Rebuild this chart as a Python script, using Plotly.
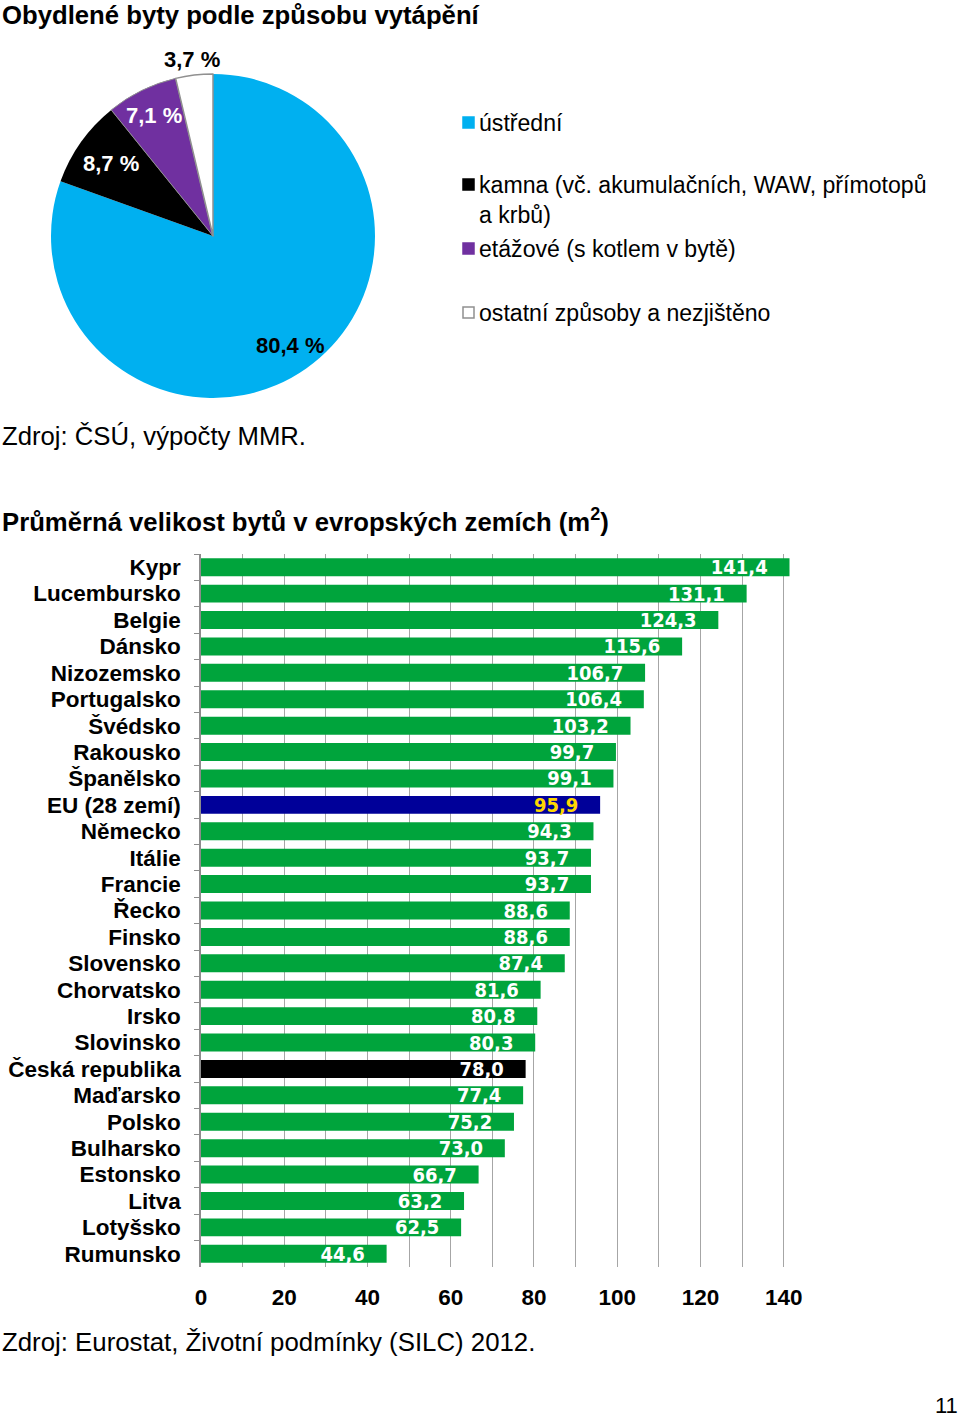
import math
import plotly.graph_objects as go

W, H = 960, 1418

# ---- Pie data ----
pie_labels = ["ústřední", "kamna (vč. akumulačních, WAW, přímotopů<br>a krbů)",
              "etážové (s kotlem v bytě)", "ostatní způsoby a nezjištěno"]
pie_values = [80.4, 8.7, 7.1, 3.7]
pie_colors = ["#00B0F0", "#000000", "#7030A0", "#FFFFFF"]
pie_text_colors = ["#000000", "#FFFFFF", "#FFFFFF", "#000000"]
pie_label_radius = [0.83, 0.77, 0.83, 1.1]

# ---- Bar data ----
countries = ["Kypr", "Lucembursko", "Belgie", "Dánsko", "Nizozemsko", "Portugalsko",
             "Švédsko", "Rakousko", "Španělsko", "EU (28 zemí)", "Německo", "Itálie",
             "Francie", "Řecko", "Finsko", "Slovensko", "Chorvatsko", "Irsko",
             "Slovinsko", "Česká republika", "Maďarsko", "Polsko", "Bulharsko",
             "Estonsko", "Litva", "Lotyšsko", "Rumunsko"]
sizes = [141.4, 131.1, 124.3, 115.6, 106.7, 106.4, 103.2, 99.7, 99.1, 95.9, 94.3,
         93.7, 93.7, 88.6, 88.6, 87.4, 81.6, 80.8, 80.3, 78.0, 77.4, 75.2, 73.0,
         66.7, 63.2, 62.5, 44.6]
x_ticks = [0, 20, 40, 60, 80, 100, 120, 140]

GREEN = "#00A43C"
bar_colors = []
label_colors = []
for c in countries:
    if c.startswith("EU"):
        bar_colors.append("#000099"); label_colors.append("#FFD700")
    elif c == "Česká republika":
        bar_colors.append("#000000"); label_colors.append("#FFFFFF")
    else:
        bar_colors.append(GREEN); label_colors.append("#FFFFFF")

def fmt(v):
    return f"{v:.1f}".replace(".", ",")

def px_x(p):
    return p / W

def px_y(p):
    return 1 - p / H

PIE_L, PIE_R, PIE_T, PIE_B = 51, 375, 74, 398
CX, CY, RAD = (PIE_L + PIE_R) / 2, (PIE_T + PIE_B) / 2, (PIE_R - PIE_L) / 2

fig = go.Figure()

fig.add_trace(go.Pie(
    labels=pie_labels, values=pie_values, sort=False, direction="clockwise",
    rotation=0,
    marker=dict(colors=pie_colors,
                line=dict(color=["#00B0F0", "#000000", "#909090", "#909090"], width=[0, 0, 1, 1.5])),
    textinfo="none", automargin=False,
    domain=dict(x=[px_x(PIE_L), px_x(PIE_R)], y=[px_y(PIE_B), px_y(PIE_T)]),
    showlegend=False, hoverinfo="label+percent",
))

# percentage labels at each slice's mid-angle
total = sum(pie_values)
cum = 0.0
for v, tc, k in zip(pie_values, pie_text_colors, pie_label_radius):
    mid = (cum + v / 2) / total * 2 * math.pi
    cum += v
    lx = CX + k * RAD * math.sin(mid)
    ly = CY - k * RAD * math.cos(mid)
    fig.add_annotation(text="<b>" + fmt(v) + " %</b>", xref="paper", yref="paper",
                       x=px_x(lx), y=px_y(ly), xanchor="center", yanchor="middle",
                       showarrow=False,
                       font=dict(size=22, family="Liberation Sans, Arial", color=tc))

fig.add_trace(go.Bar(
    y=countries, x=sizes, orientation="h",
    marker=dict(color=bar_colors, line=dict(width=0)),
    text=[fmt(v) + "\u00a0\u00a0\u00a0" for v in sizes],
    textposition="inside", insidetextanchor="end",
    textfont=dict(color=label_colors, size=20,
                  family="Liberation Sans Narrow, Arial Narrow, DejaVu Sans Condensed",
                  weight="bold"),
    constraintext="none", cliponaxis=False,
    xaxis="x", yaxis="y", showlegend=False,
))

# legend for the pie
legend_y = [122, 184, 248, 312]
for lab, col, yy in zip(pie_labels, pie_colors, legend_y):
    fig.add_shape(type="rect", xref="paper", yref="paper",
                  x0=px_x(463), x1=px_x(474), y0=px_y(yy + 6), y1=px_y(yy - 5),
                  fillcolor=col, line=dict(color="#909090" if col == "#FFFFFF" else col, width=1.5))
    fig.add_annotation(text=lab, xref="paper", yref="paper", x=px_x(477), y=px_y(yy - 14),
                       xanchor="left", yanchor="top", showarrow=False, align="left",
                       font=dict(size=23.1, family="Liberation Sans, Arial", color="#000"))

texts = [
    ("<b>Obydlené byty podle způsobu vytápění</b>", 0, 15, 25.7),
    ("Zdroj: ČSÚ, výpočty MMR.", 0, 436, 25.7),
    ("<b>Průměrná velikost bytů v evropských zemích (m<sup>2</sup>)</b>", 0, 520, 25.7),
    ("Zdroj: Eurostat, Životní podmínky (SILC) 2012.", 0, 1342, 25.8),
]
for t, xx, yy, s in texts:
    fig.add_annotation(text=t, xref="paper", yref="paper", x=px_x(xx), y=px_y(yy),
                       xanchor="left", yanchor="middle", showarrow=False,
                       font=dict(size=s, family="Liberation Sans, Arial", color="#000"))
fig.add_annotation(text="11", xref="paper", yref="paper", x=px_x(960), y=px_y(1405),
                   xanchor="right", yanchor="middle", showarrow=False,
                   font=dict(size=22, family="Liberation Sans, Arial", color="#000"))

fig.update_layout(
    width=W, height=H, autosize=False,
    margin=dict(l=0, r=0, t=0, b=0, pad=0, autoexpand=False),
    paper_bgcolor="white", plot_bgcolor="white",
    bargap=0.32,
    font=dict(family="Liberation Sans, Arial", color="#000"),
    xaxis=dict(domain=[px_x(201), px_x(792)], range=[0, 142], anchor="y", automargin=False,
               tickvals=x_ticks, ticktext=[str(v) for v in x_ticks],
               tickfont=dict(size=22.5, weight="bold", family="Liberation Sans, Arial"),
               showgrid=True, gridcolor="#A6A6A6", gridwidth=1,
               minor=dict(dtick=10, tick0=0, showgrid=True, gridcolor="#A6A6A6", gridwidth=1),
               zeroline=False, showline=False, ticks="", ticklabelstandoff=14),
    yaxis=dict(domain=[px_y(1267), px_y(554)], anchor="x", automargin=False,
               categoryorder="array", categoryarray=countries, autorange="reversed",
               tickmode="linear", tick0=0, dtick=1,
               tickson="boundaries", ticks="outside", ticklen=5, tickcolor="#8C8C8C",
               showline=True, linecolor="#8C8C8C", linewidth=1.5,
               showgrid=False, zeroline=False,
               tickfont=dict(size=22.5, weight="bold", family="Liberation Sans, Arial"),
               ticklabelstandoff=14),
)

fig.write_html("out.html", config={"displayModeBar": False, "responsive": False},
               post_script="document.documentElement.style.margin='0';"
                           "document.body.style.margin='0';"
                           "document.body.style.overflow='hidden';")
